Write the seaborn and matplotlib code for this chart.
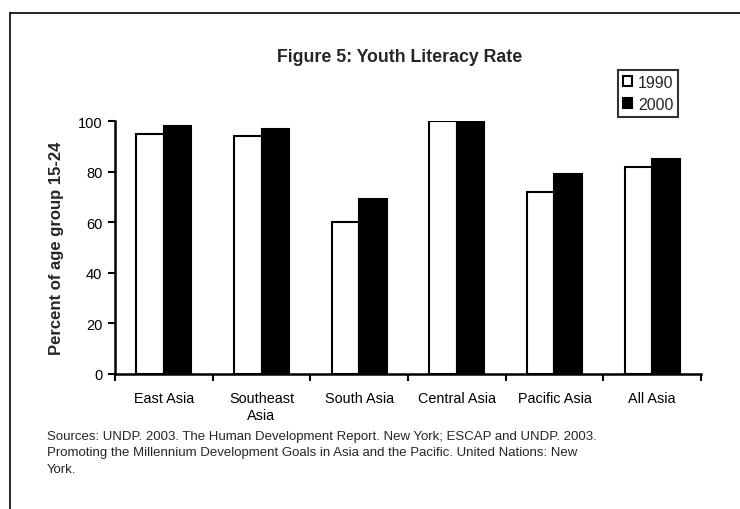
import matplotlib
matplotlib.use("Agg")
import matplotlib.pyplot as plt
from matplotlib.lines import Line2D
import seaborn as sns
import pandas as pd

regions = ["East Asia", "Southeast\nAsia", "South Asia", "Central Asia", "Pacific Asia", "All Asia"]
years = ["1990", "2000"]
rate_1990 = [95, 94, 60, 100, 72, 82]
rate_2000 = [98, 97, 69, 100, 79, 85]
y_ticks = [0, 20, 40, 60, 80, 100]

df = pd.DataFrame({
    "region": regions * 2,
    "year": [years[0]] * len(regions) + [years[1]] * len(regions),
    "rate": rate_1990 + rate_2000,
})

sns.set_theme(style="white")
plt.rcParams["font.family"] = ["Liberation Sans", "DejaVu Sans"]

fig = plt.figure(figsize=(7.4, 5.1), dpi=100)
ax = fig.add_axes([115 / 740, 1 - 375 / 510, (701 - 115) / 740, (375 - 122) / 510])

sns.barplot(data=df, x="region", y="rate", hue="year", order=regions, hue_order=years,
            palette={"1990": "white", "2000": "black"}, width=0.56, gap=0,
            edgecolor="black", linewidth=1.5, ax=ax, legend=False)

ax.set_xlim(-0.5, len(regions) - 0.5)
ax.set_ylim(0, 100)
ax.set_yticks(y_ticks)
ax.set_yticklabels([str(t) for t in y_ticks], fontsize=10.5)
ax.set_xlabel("")
ax.set_ylabel("Percent of age group 15-24", fontsize=12, fontweight="bold", labelpad=10)

for side in ["top", "right"]:
    ax.spines[side].set_visible(False)
for side in ["left", "bottom"]:
    ax.spines[side].set_color("black")
    ax.spines[side].set_linewidth(1.8)

ax.tick_params(axis="y", which="major", direction="out", length=5, width=1.5, color="black",
               left=True, pad=4, labelcolor="black")
ax.set_xticks(range(len(regions)))
ax.set_xticklabels(regions, fontsize=10.4, color="black", linespacing=1.3)
ax.tick_params(axis="x", which="major", length=0, pad=12)
ax.set_xticks([i - 0.5 for i in range(len(regions) + 1)], minor=True)
ax.tick_params(axis="x", which="minor", direction="out", length=5, width=1.5, color="black", bottom=True)
ax.grid(False)

handles = [
    plt.Rectangle((0, 0), 1, 1, facecolor="white", edgecolor="black", linewidth=1.5),
    plt.Rectangle((0, 0), 1, 1, facecolor="black", edgecolor="black", linewidth=1.5),
]
leg = fig.legend(handles, years, loc="upper left", bbox_to_anchor=(618 / 740, 1 - 71 / 510),
                 bbox_transform=fig.transFigure, fontsize=11.5, frameon=True, fancybox=False,
                 handlelength=0.6, handleheight=0.6, handletextpad=0.35, borderpad=0.3,
                 labelspacing=0.45, borderaxespad=0)
leg.get_frame().set_edgecolor("black")
leg.get_frame().set_linewidth(1.5)

fig.text(400 / 740, 1 - 57 / 510, "Figure 5: Youth Literacy Rate", ha="center", va="center",
         fontsize=12.8, fontweight="bold")

sources = ("Sources: UNDP. 2003. The Human Development Report. New York; ESCAP and UNDP. 2003.\n"
           "Promoting the Millennium Development Goals in Asia and the Pacific. United Nations: New\n"
           "York.")
fig.text(47 / 740, 1 - 431 / 510, sources, ha="left", va="top", fontsize=9.5, linespacing=1.5)

# outer frame of the figure panel
fig.add_artist(Line2D([10 / 740, 10 / 740], [0, 1 - 14 / 510], transform=fig.transFigure,
                      color="black", linewidth=1.2))
fig.add_artist(Line2D([10 / 740, 1], [1 - 14 / 510, 1 - 14 / 510], transform=fig.transFigure,
                      color="black", linewidth=1.2))

fig.savefig("out.png", dpi=100)
